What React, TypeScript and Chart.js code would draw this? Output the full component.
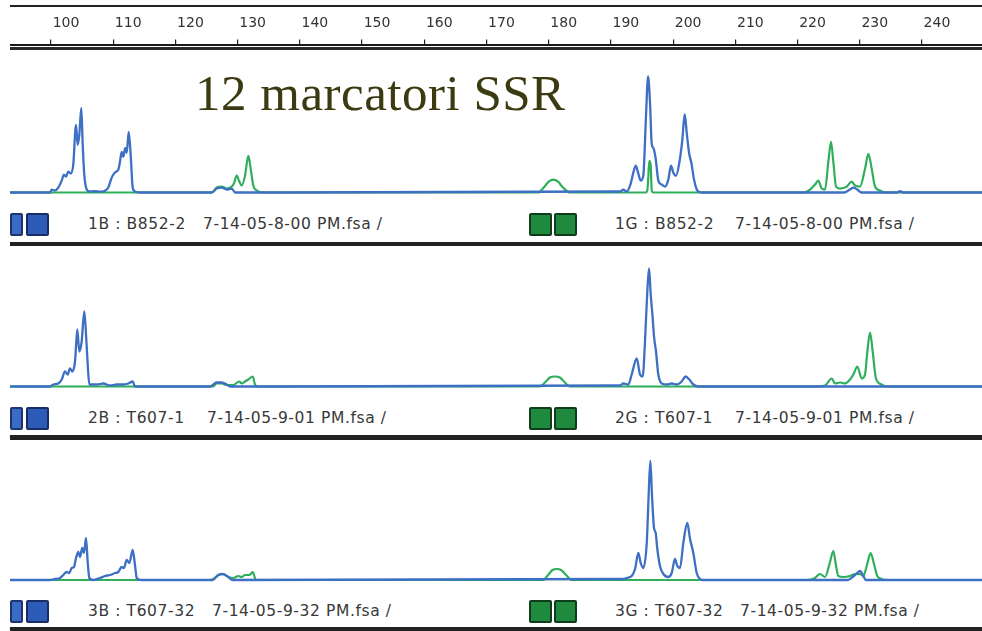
import React, { useEffect, useRef } from "react";
import { Chart, registerables } from "chart.js";

Chart.register(...registerables);

// ---- scale (base pairs) ----
const X_MIN = 93.41;
const X_MAX = 249.65;
const SIZE_STEP = 10;

const TITLE = "12 marcatori SSR";

// ---- lane 1 (B852-2) : [size bp, RFU] ----
const blue1: [number, number][] = [
  [93.4, 0], [99.84, 0], [100.11, 30], [100.64, 20], [101.17, 50], [101.72, 120], [102.09, 180],
  [102.41, 160], [102.78, 210], [103.17, 190], [103.58, 280], [104.02, 680], [104.29, 480],
  [104.55, 580], [104.87, 850], [105.1, 480], [105.35, 180], [105.74, 30], [106.16, 10],
  [107.0, 15], [107.9, 8], [108.6, 15], [109.21, 50], [109.48, 100], [109.76, 150], [110.13, 190],
  [110.45, 210], [110.82, 230], [111.09, 310], [111.36, 410], [111.62, 360], [111.94, 450],
  [112.17, 400], [112.49, 610], [112.81, 380], [113.13, 50], [113.5, 10], [114.3, 0],
  [125.8, 0], [126.64, 40], [127.44, 50], [128.24, 30], [129.05, 40], [129.6, 0],
  [191.46, 10], [192.0, 30], [192.54, 10], [193.18, 90], [193.6, 200], [193.99, 270], [194.41, 190],
  [194.79, 120], [195.21, 170], [195.64, 770], [195.97, 1170], [196.29, 900], [196.56, 490],
  [196.82, 450], [197.2, 340], [197.62, 120], [198.17, 80], [198.7, 60], [199.23, 130],
  [199.66, 270], [200.03, 200], [200.47, 170], [201.0, 300], [201.48, 530], [201.86, 790],
  [202.19, 600], [202.56, 400], [202.93, 300], [203.36, 130], [203.89, 20], [204.6, 0],
  [227.5, 0], [228.4, 30], [229.0, 50], [229.6, 30], [230.3, 0],
  [236.0, 0], [236.5, 15], [237.0, 0], [249.7, 0],
];
const green1: [number, number][] = [
  [93.4, 0], [125.5, 0], [126.09, 10], [126.64, 50], [127.44, 60], [128.24, 40], [129.05, 60],
  [129.4, 90], [129.85, 170], [130.27, 110], [130.65, 70], [131.19, 170], [131.72, 370],
  [132.1, 240], [132.52, 70], [133.07, 20], [134.13, 0],
  [178.33, 0], [179.2, 50], [180.0, 110], [180.74, 130], [181.5, 110], [182.3, 50], [183.43, 0],
  [195.6, 0], [195.85, 20], [196.01, 150], [196.17, 320], [196.4, 270], [196.56, 20], [196.8, 0],
  [220.93, 0], [222.01, 30], [222.81, 80], [223.34, 120], [223.89, 40], [224.42, 30],
  [224.95, 310], [225.38, 510], [225.75, 310], [226.19, 60], [226.83, 40], [227.91, 60],
  [228.71, 110], [229.24, 70], [230.04, 60], [230.85, 240], [231.38, 390], [231.92, 240],
  [232.45, 60], [233.26, 20], [234.0, 0], [249.7, 0],
];

// ---- lane 2 (T607-1) ----
const blue2: [number, number][] = [
  [93.4, 0], [99.84, 0], [100.37, 20], [101.17, 30], [101.72, 70], [102.25, 150], [102.68, 120],
  [103.05, 180], [103.42, 150], [103.86, 250], [104.23, 570], [104.55, 350], [104.93, 450],
  [105.35, 750], [105.63, 520], [105.9, 220], [106.16, 20], [107.35, 20], [108.41, 30],
  [109.48, 10], [110.56, 20], [111.62, 20], [112.43, 30], [113.13, 50], [113.5, 0],
  [125.6, 0], [126.09, 20], [126.64, 40], [127.44, 40], [128.24, 20], [128.8, 0],
  [191.46, 10], [192.0, 30], [192.8, 20], [193.34, 120], [194.15, 280], [194.68, 120],
  [195.11, 100], [195.48, 450], [195.85, 950], [196.13, 1180], [196.4, 920], [196.72, 680],
  [196.93, 500], [197.25, 350], [197.62, 120], [198.17, 30], [198.97, 20], [199.77, 30],
  [200.58, 20], [201.38, 50], [202.02, 100], [202.61, 70], [203.25, 20], [204.05, 0],
  [249.7, 0],
];
const green2: [number, number][] = [
  [93.4, 0], [126.0, 0], [126.64, 30], [127.44, 30], [128.24, 15], [129.3, 15], [130.27, 50],
  [130.65, 30], [131.19, 50], [131.72, 70], [132.42, 100], [132.79, 20], [133.1, 0],
  [178.6, 0], [179.4, 40], [180.2, 90], [181.0, 100], [181.8, 90], [182.6, 40], [183.4, 0],
  [223.08, 0], [224.42, 10], [225.49, 80], [226.03, 30], [226.83, 40], [227.63, 30],
  [228.44, 70], [228.97, 120], [229.61, 200], [230.32, 80], [230.85, 120], [231.22, 350],
  [231.65, 540], [232.08, 350], [232.61, 80], [233.53, 20], [234.33, 0], [249.7, 0],
];

// ---- lane 3 (T607-32) ----
const blue3: [number, number][] = [
  [93.4, 0], [99.84, 0], [100.64, 10], [101.45, 20], [101.98, 50], [102.52, 80], [102.94, 70],
  [103.33, 120], [103.7, 130], [104.02, 220], [104.39, 280], [104.66, 230], [105.03, 320],
  [105.3, 270], [105.63, 420], [105.9, 180], [106.16, 20], [106.8, 0], [107.88, 20],
  [108.68, 40], [109.48, 50], [110.29, 70], [110.82, 80], [111.36, 130], [111.73, 120],
  [112.17, 200], [112.59, 170], [113.13, 300], [113.5, 150], [113.78, 20], [114.5, 0],
  [126.0, 0], [126.89, 50], [127.6, 60], [128.5, 30], [129.2, 0],
  [192.0, 10], [192.54, 20], [193.34, 40], [193.88, 110], [194.41, 270], [194.79, 170],
  [195.21, 120], [195.76, 370], [196.08, 870], [196.34, 1190], [196.61, 840], [196.93, 520],
  [197.2, 470], [197.46, 310], [197.89, 140], [198.43, 60], [199.23, 30], [199.77, 70],
  [200.3, 210], [200.67, 140], [201.11, 120], [201.64, 370], [202.28, 570], [202.72, 410],
  [203.25, 270], [203.79, 70], [204.33, 10], [204.8, 0],
  [228.0, 0], [229.24, 50], [230.04, 90], [230.58, 40], [231.0, 0], [249.7, 0],
];
const green3: [number, number][] = [
  [93.4, 0], [125.5, 0], [126.09, 10], [126.89, 50], [127.6, 60], [128.5, 30], [129.3, 20],
  [130.11, 40], [130.65, 30], [131.19, 50], [131.88, 50], [132.42, 80], [132.95, 0],
  [179.1, 0], [179.9, 50], [180.6, 100], [181.3, 110], [182.0, 100], [182.8, 50], [183.7, 0],
  [221.48, 0], [222.81, 20], [223.61, 60], [224.42, 30], [225.22, 180], [225.75, 290],
  [226.19, 140], [226.56, 40], [227.36, 30], [228.44, 40], [229.24, 60], [230.04, 60],
  [230.58, 40], [231.12, 140], [231.76, 270], [232.29, 160], [232.82, 40], [233.53, 10],
  [234.3, 0], [249.7, 0],
];

const blueLabels = ["1B : B852-2", "2B : T607-1", "3B : T607-32"];
const greenLabels = ["1G : B852-2", "2G : T607-1", "3G : T607-32"];
const fileNames = ["7-14-05-8-00 PM.fsa /", "7-14-05-9-01 PM.fsa /", "7-14-05-9-32 PM.fsa /"];

const BLUE = "#3d6fc4";
const GREEN = "#2fae5c";

type LaneProps = {
  blue: [number, number][];
  green: [number, number][];
  top: number;
  height: number;
  yMin: number;
  yMax: number;
  axis: boolean;
};

function Lane({ blue, green, top, height, yMin, yMax, axis }: LaneProps) {
  const ref = useRef<HTMLCanvasElement>(null);
  useEffect(() => {
    const chart = new Chart(ref.current as HTMLCanvasElement, {
      type: "line",
      data: {
        datasets: [
          {
            data: blue.map(([x, y]) => ({ x, y })),
            borderColor: BLUE,
            borderWidth: 2.3,
            pointRadius: 0,
            fill: false,
            cubicInterpolationMode: "monotone",
          },
          {
            data: green.map(([x, y]) => ({ x, y })),
            borderColor: GREEN,
            borderWidth: 2.2,
            pointRadius: 0,
            fill: false,
            cubicInterpolationMode: "monotone",
          },
        ],
      },
      options: {
        animation: false,
        responsive: false,
        events: [],
        layout: { padding: { top: axis ? 6.7 : 0, left: 0, right: 0, bottom: 0 } },
        plugins: { legend: { display: false }, tooltip: { enabled: false }, title: { display: false } },
        scales: {
          x: {
            type: "linear",
            position: "top",
            min: X_MIN,
            max: X_MAX,
            display: axis,
            ticks: {
              stepSize: SIZE_STEP,
              includeBounds: false,
              autoSkip: false,
              maxRotation: 0,
              labelOffset: 15,
              padding: 8,
              color: "#333",
              font: { family: "'DejaVu Sans', sans-serif", size: 14 },
            },
            grid: { drawOnChartArea: false, tickLength: 5, color: "#222", lineWidth: 1.2 },
            border: { color: "#1a1a1a", width: 2 },
          },
          y: { display: false, min: yMin, max: yMax },
        },
      },
    } as any);
    return () => chart.destroy();
  }, []);
  return (
    <canvas
      ref={ref}
      width={972}
      height={height}
      style={{ position: "absolute", left: 10, top, display: "block", width: 972, height }}
    />
  );
}

const lanes = [
  { blue: blue1, green: green1, top: 0, height: 195, yMin: -25, yMax: 1490, axis: true },
  { blue: blue2, green: green2, top: 250, height: 139, yMin: -25, yMax: 1365, axis: false },
  { blue: blue3, green: green3, top: 445, height: 138, yMin: -30, yMax: 1350, axis: false },
];
const labelRows = [
  { squareTop: 213, textTop: 215, lineTop: 242, lineH: 4, leftFile: 203, rightFile: 735 },
  { squareTop: 407, textTop: 409, lineTop: 435, lineH: 5, leftFile: 207, rightFile: 735 },
  { squareTop: 600, textTop: 602, lineTop: 627, lineH: 4, leftFile: 212, rightFile: 740 },
];

const textStyle: React.CSSProperties = {
  position: "absolute",
  fontFamily: "'DejaVu Sans', sans-serif",
  fontSize: 15.5,
  lineHeight: "18px",
  letterSpacing: 0.6,
  color: "#383838",
  whiteSpace: "nowrap",
};

function Square({ left, top, width, color, edge }: { left: number; top: number; width: number; color: string; edge: string }) {
  return (
    <div
      style={{
        position: "absolute",
        left,
        top,
        width,
        height: 23,
        boxSizing: "border-box",
        background: color,
        border: `2px solid ${edge}`,
        borderRadius: 2,
      }}
    />
  );
}

export default function App() {
  return (
    <div style={{ position: "absolute", left: 0, top: 0, width: 982, height: 631, overflow: "hidden", background: "#fff" }}>
      <div style={{ position: "absolute", left: 10, top: 5, right: 0, height: 2, background: "#222" }} />
      {lanes.map((l, i) => (
        <Lane key={i} {...l} />
      ))}
      <div style={{ position: "absolute", left: 10, top: 47, right: 0, height: 3, background: "#2a2a2a" }} />
      {labelRows.map((r, i) => (
        <React.Fragment key={i}>
          <Square left={10} top={r.squareTop} width={13} color="#3a6cc4" edge="#1d3470" />
          <Square left={26} top={r.squareTop} width={23} color="#2d5cb8" edge="#1a2c66" />
          <div style={{ ...textStyle, left: 88, top: r.textTop }}>{blueLabels[i]}</div>
          <div style={{ ...textStyle, left: r.leftFile, top: r.textTop }}>{fileNames[i]}</div>
          <Square left={529} top={r.squareTop} width={23} color="#1f8a3e" edge="#0f3d1c" />
          <Square left={554} top={r.squareTop} width={23} color="#1f8a3e" edge="#0f3d1c" />
          <div style={{ ...textStyle, left: 615, top: r.textTop }}>{greenLabels[i]}</div>
          <div style={{ ...textStyle, left: r.rightFile, top: r.textTop }}>{fileNames[i]}</div>
          <div style={{ position: "absolute", left: 10, top: r.lineTop, right: 0, height: r.lineH, background: "#222" }} />
        </React.Fragment>
      ))}
      <div
        style={{
          position: "absolute",
          left: 195,
          top: 68,
          fontFamily: "'Liberation Serif', serif",
          fontSize: 51,
          lineHeight: "51px",
          letterSpacing: 0.5,
          color: "#3b3a10",
          whiteSpace: "nowrap",
        }}
      >
        {TITLE}
      </div>
    </div>
  );
}
